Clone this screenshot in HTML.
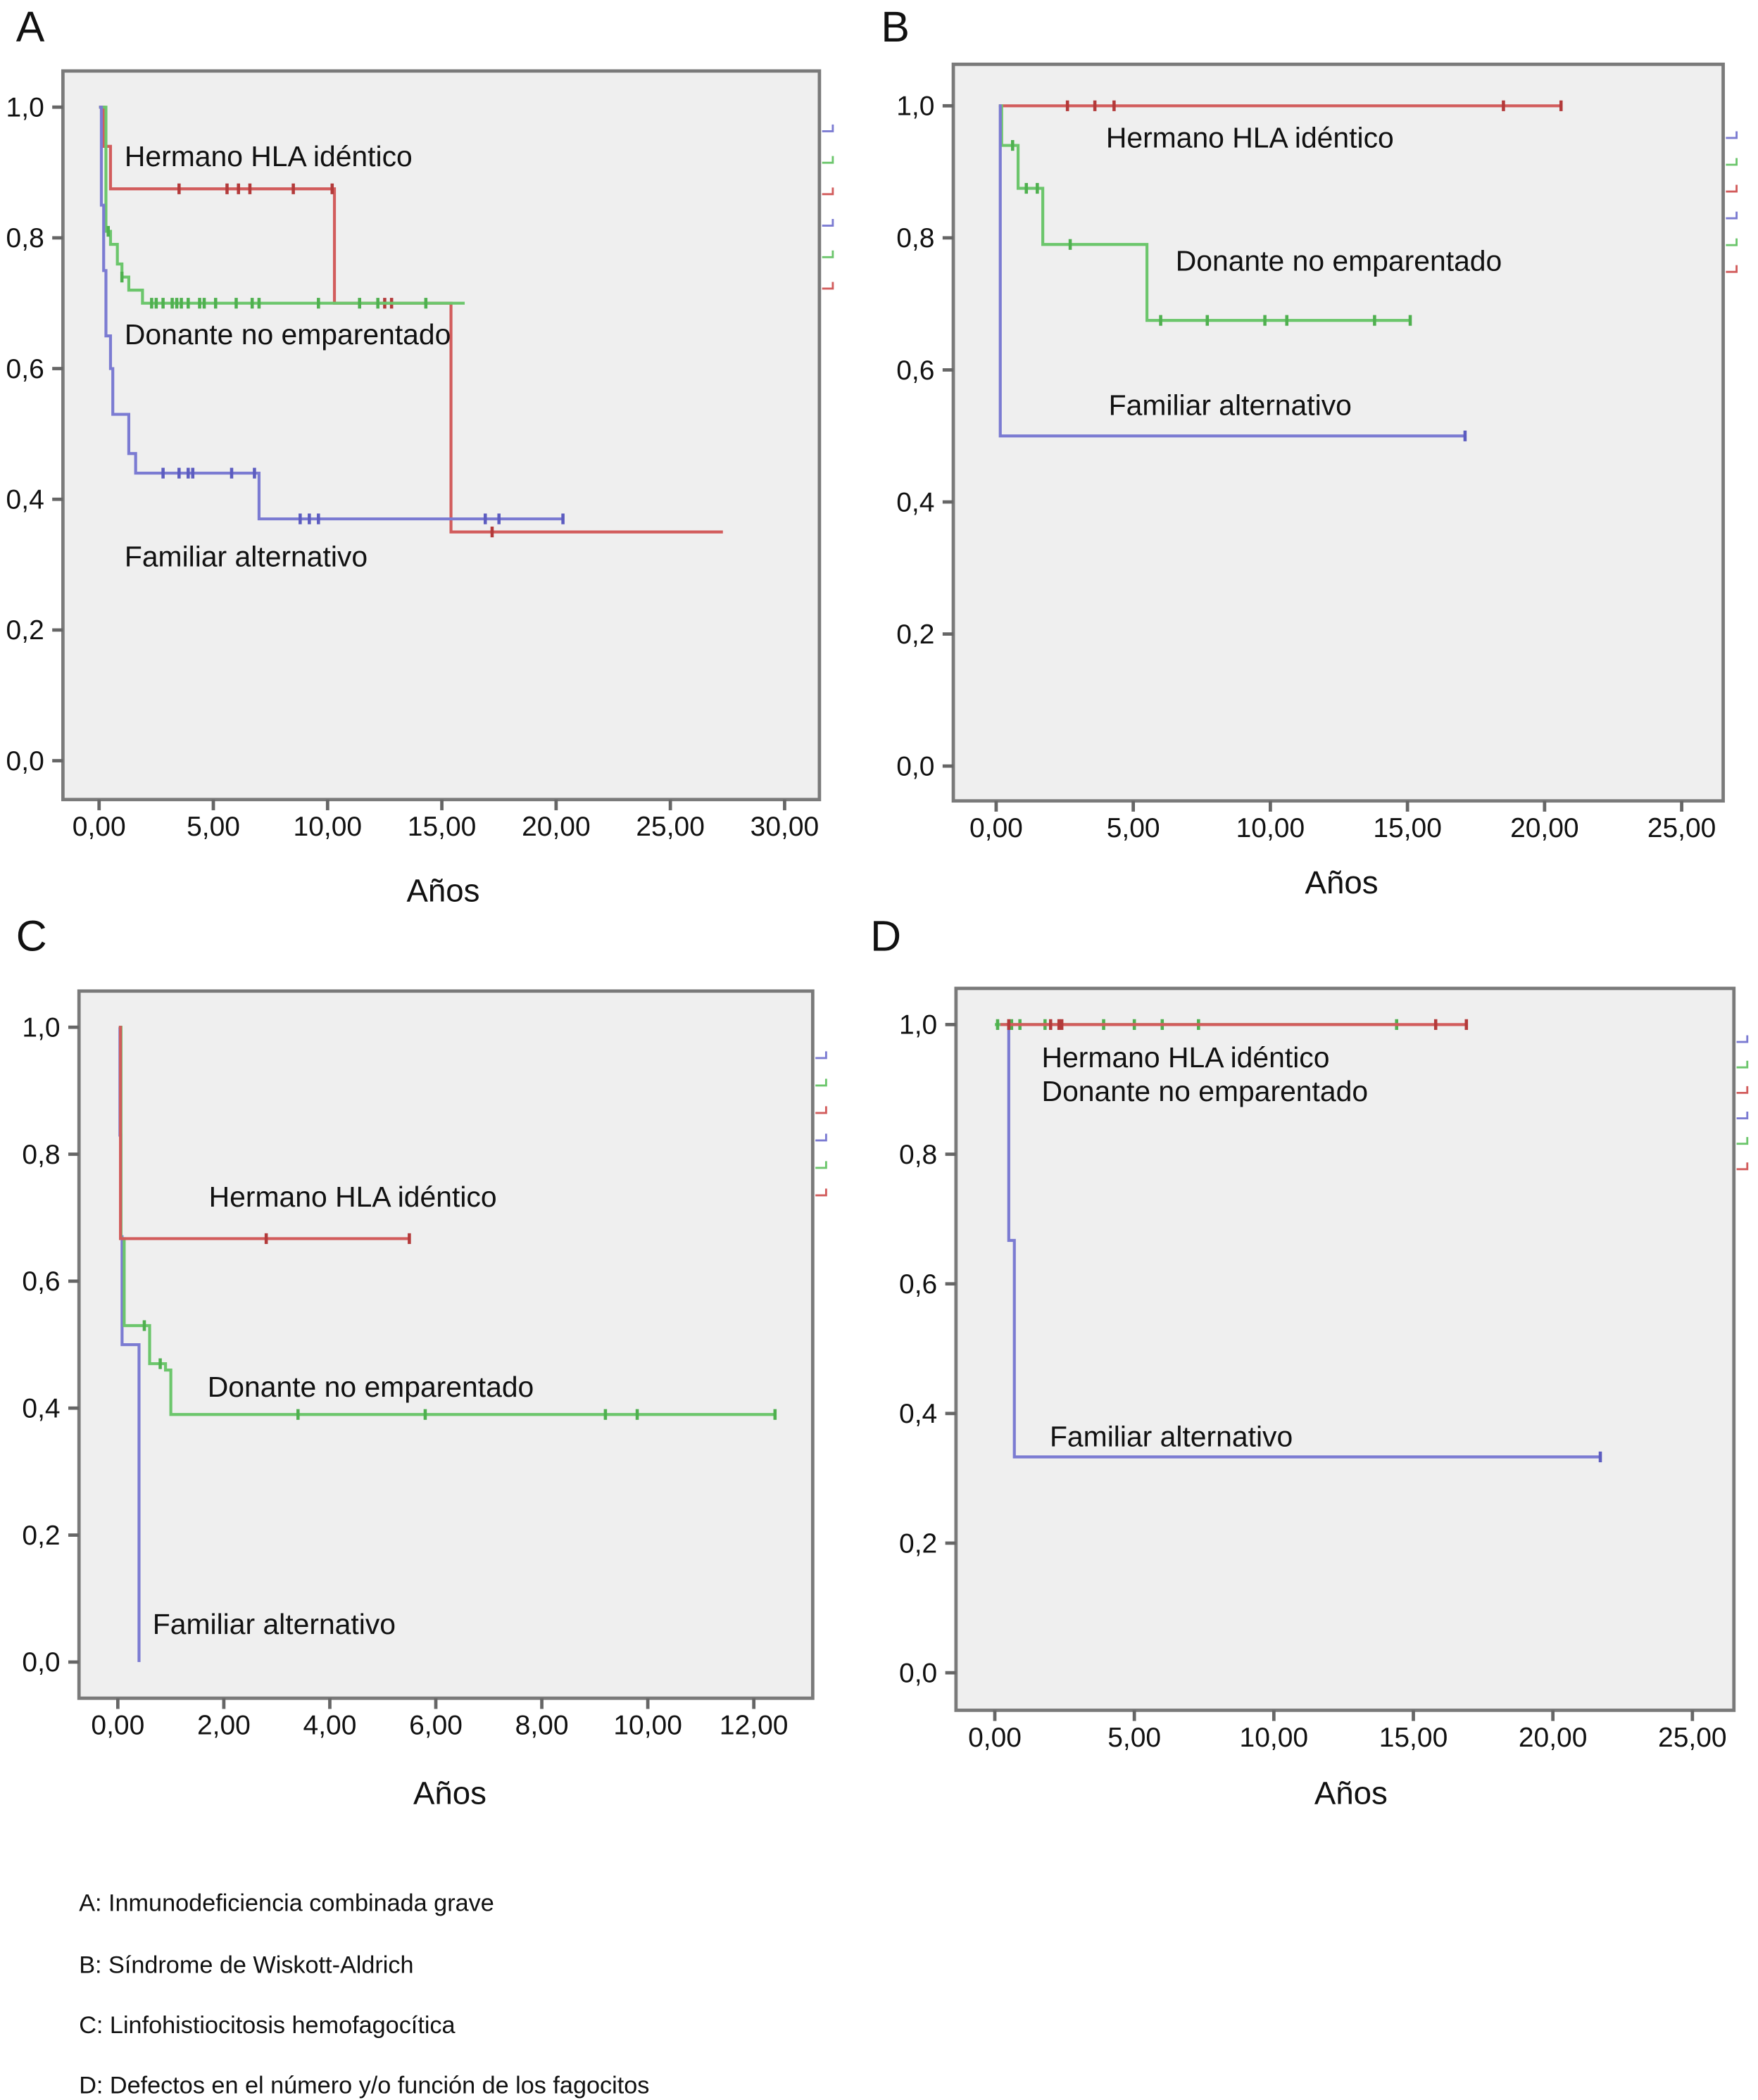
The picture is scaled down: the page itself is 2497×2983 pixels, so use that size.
<!DOCTYPE html>
<html><head><meta charset="utf-8"><style>
html,body{margin:0;padding:0;background:#fff}
svg{display:block}
text{font-family:"Liberation Sans",Arial,sans-serif;fill:#111}
</style></head><body>
<svg id="fig" width="2497" height="2983" viewBox="0 0 1313 1568" preserveAspectRatio="none" xmlns="http://www.w3.org/2000/svg">
<text x="59" y="1427" font-size="18">A: Inmunodeficiencia combinada grave</text>
<text x="59" y="1473" font-size="18">B: Síndrome de Wiskott-Aldrich</text>
<text x="59" y="1518" font-size="18">C: Linfohistiocitosis hemofagocítica</text>
<text x="59" y="1563" font-size="18">D: Defectos en el número y/o función de los fagocitos</text>
</svg>
<script>
// Panel A data
const aRedT=[0,0.2,0.5,10.3,15.4]; const aRedS=[1.0,0.94,0.875,0.70,0.35]; const aRedEnd=27.3; const aRedC=[3.5,5.6,6.1,6.6,8.5,10.2,12.5,12.8,17.2];
const aGreenT=[0,0.3,0.5,0.8,1.0,1.3,1.9]; const aGreenS=[1.0,0.81,0.79,0.76,0.74,0.72,0.70]; const aGreenEnd=16.0; const aGreenC=[0.4,1.0,2.3,2.5,2.8,3.2,3.4,3.6,3.9,4.4,4.6,5.1,6.0,6.7,7.0,9.6,11.4,12.2,14.3];
const aBlueT=[0,0.1,0.2,0.3,0.5,0.6,1.3,1.6,1.9,7.0]; const aBlueS=[1.0,0.85,0.75,0.65,0.60,0.53,0.47,0.44,0.44,0.37]; const aBlueEnd=20.3; const aBlueC=[2.8,3.5,3.9,4.1,5.8,6.8,8.8,9.2,9.6,16.9,17.5,20.3];
// Panel B data
const bRedT=[0.1]; const bRedS=[1.0]; const bRedEnd=20.6; const bRedC=[2.6,3.6,4.3,18.5,20.6];
const bGreenT=[0.1,0.2,0.8,1.7,5.5]; const bGreenS=[1.0,0.94,0.875,0.79,0.675]; const bGreenEnd=15.1; const bGreenC=[0.6,1.1,1.5,2.7,6.0,7.7,9.8,10.6,13.8,15.1];
const bBlueT=[0.1,0.15]; const bBlueS=[1.0,0.5]; const bBlueEnd=17.1; const bBlueC=[17.1];
// Panel C data
const cRedT=[0.02,0.05]; const cRedS=[1.0,0.667]; const cRedEnd=5.5; const cRedC=[2.8,5.5];
const cGreenT=[0.02,0.06,0.12,0.6,0.9,1.0]; const cGreenS=[1.0,0.667,0.53,0.47,0.46,0.39]; const cGreenEnd=12.4; const cGreenC=[0.5,0.8,3.4,5.8,9.2,9.8,12.4];
const cBlueT=[0.02,0.04,0.06,0.08,0.4]; const cBlueS=[1.0,0.83,0.67,0.5,0.0]; const cBlueEnd=0.4; const cBlueC=[];
// Panel D data
const dRedT=[0.2]; const dRedS=[1.0]; const dRedEnd=16.9; const dRedC=[0.5,2.0,2.3,2.4,15.8,16.9];
const dGreenT=[0.0]; const dGreenS=[1.0]; const dGreenEnd=14.4; const dGreenC=[0.1,0.6,0.9,1.8,3.9,5.0,6.0,7.3,14.4];
const dBlueT=[0.4,0.5,0.7]; const dBlueS=[1.0,0.667,0.333]; const dBlueEnd=21.7; const dBlueC=[21.7];

const xTicksA=[0,5,10,15,20,25,30]; const xTicksB=[0,5,10,15,20,25]; const xTicksC=[0,2,4,6,8,10,12]; const xTicksD=[0,5,10,15,20,25];
const yTicks=[0,0.2,0.4,0.6,0.8,1.0];

const svg=document.getElementById('fig');
const NS='http://www.w3.org/2000/svg';
const COL={red:'#d25c5c',green:'#6cc66c',blue:'#7b7bd2'};
const CEN={red:'#b33a3a',green:'#4fb04f',blue:'#5c5cc0'};
function el(tag,attrs,parent){const e=document.createElementNS(NS,tag);for(const k in attrs)e.setAttribute(k,attrs[k]);(parent||svg).appendChild(e);return e;}
function fmt(v){return v.toFixed(2).replace('.',',');}
function panel(p){
  const g=el('g',{});
  
  
  const X=t=>p.x0+(p.x1-p.x0)*t/p.xmax;
  const Y=s=>p.y0+(p.y1-p.y0)*(1-s);
  const bg=el('rect',{x:p.bx,y:p.by,width:p.bw,height:p.bh,fill:'#efefef',stroke:'#7a7a7a','stroke-width':2.5},g);
  
  
  const L=el('text',{x:p.lx,y:p.ly,'font-size':32},g);L.textContent=p.id;
  
  
  yTicks.forEach(v=>{
    el('line',{x1:p.bx-8,x2:p.bx,y1:Y(v),y2:Y(v),stroke:'#666','stroke-width':2.5},g);
    const t=el('text',{x:p.bx-14,y:Y(v)+7,'font-size':20.5,'text-anchor':'end'},g);t.textContent=v.toFixed(1).replace('.',',');
    
    
  });
  p.xt.forEach(v=>{
    el('line',{x1:X(v),x2:X(v),y1:p.by+p.bh,y2:p.by+p.bh+8,stroke:'#666','stroke-width':2.5},g);
    const t=el('text',{x:X(v),y:p.by+p.bh+27,'font-size':20.5,'text-anchor':'middle'},g);t.textContent=fmt(v);
    
    
  });
  const at=el('text',{x:p.ax,y:p.ay,'font-size':24,'text-anchor':'middle'},g);at.textContent='Años';
  
  
  p.series.forEach(s=>{
    let d='M'+X(s.t[0])+','+Y(s.s[0]);
    for(let i=1;i<s.t.length;i++){d+=' H'+X(s.t[i])+' V'+Y(s.s[i]);}
    d+=' H'+X(s.end);
    const path=el('path',{d:d,fill:'none',stroke:COL[s.c],'stroke-width':2.2},g);
    
    
    s.cen.forEach(ct=>{
      let sv=s.s[0];for(let i=0;i<s.t.length;i++){if(s.t[i]<=ct)sv=s.s[i];}
      const m=el('line',{x1:X(ct),x2:X(ct),y1:Y(sv)-4,y2:Y(sv)+4,stroke:CEN[s.c],'stroke-width':2.4},g);
      
      
    });
  });
  p.labels.forEach(l=>{
    const t=el('text',{x:l[0],y:l[1],'font-size':21.5},g);t.textContent=l[2];
    
    
  });
  const lc=['blue','green','red','blue','green','red'];
  lc.forEach((c,i)=>{
    const yy=p.sy+i*p.sd;
    const ln=el('path',{d:'M'+(p.bx+p.bw+2)+','+yy+' H'+(p.bx+p.bw+10)+' v-5',fill:'none',stroke:COL[c],'stroke-width':1.5},g);
    
    
  });
}
panel({id:'A',lx:12,ly:31,bx:47,by:53,bw:565,bh:544,x0:74,x1:586,xmax:30,y0:80,y1:568,xt:xTicksA,ax:331,ay:673,sy:98,sd:23.5,
 series:[{c:'red',t:aRedT,s:aRedS,end:aRedEnd,cen:aRedC},{c:'green',t:aGreenT,s:aGreenS,end:aGreenEnd,cen:aGreenC},{c:'blue',t:aBlueT,s:aBlueS,end:aBlueEnd,cen:aBlueC}],
 labels:[[93,124,'Hermano HLA idéntico'],[93,257,'Donante no emparentado'],[93,423,'Familiar alternativo']]});
panel({id:'B',lx:658,ly:31,bx:712,by:48,bw:575,bh:550,x0:744,x1:1256,xmax:25,y0:79,y1:572,xt:xTicksB,ax:1002,ay:667,sy:103,sd:20,
 series:[{c:'red',t:bRedT,s:bRedS,end:bRedEnd,cen:bRedC},{c:'green',t:bGreenT,s:bGreenS,end:bGreenEnd,cen:bGreenC},{c:'blue',t:bBlueT,s:bBlueS,end:bBlueEnd,cen:bBlueC}],
 labels:[[826,110,'Hermano HLA idéntico'],[878,202,'Donante no emparentado'],[828,310,'Familiar alternativo']]});
panel({id:'C',lx:12,ly:710,bx:59,by:740,bw:548,bh:528,x0:88,x1:563,xmax:12,y0:767,y1:1241,xt:xTicksC,ax:336,ay:1347,sy:790,sd:20.5,
 series:[{c:'blue',t:cBlueT,s:cBlueS,end:cBlueEnd,cen:cBlueC},{c:'green',t:cGreenT,s:cGreenS,end:cGreenEnd,cen:cGreenC},{c:'red',t:cRedT,s:cRedS,end:cRedEnd,cen:cRedC}],
 labels:[[156,901,'Hermano HLA idéntico'],[155,1043,'Donante no emparentado'],[114,1220,'Familiar alternativo']]});
panel({id:'D',lx:650,ly:710,bx:714,by:738,bw:581,bh:539,x0:743,x1:1264,xmax:25,y0:765,y1:1249,xt:xTicksD,ax:1009,ay:1347,sy:778,sd:19,
 series:[{c:'blue',t:dBlueT,s:dBlueS,end:dBlueEnd,cen:dBlueC},{c:'green',t:dGreenT,s:dGreenS,end:dGreenEnd,cen:dGreenC},{c:'red',t:dRedT,s:dRedS,end:dRedEnd,cen:dRedC}],
 labels:[[778,797,'Hermano HLA idéntico'],[778,822,'Donante no emparentado'],[784,1080,'Familiar alternativo']]});
</script>
</body></html>
